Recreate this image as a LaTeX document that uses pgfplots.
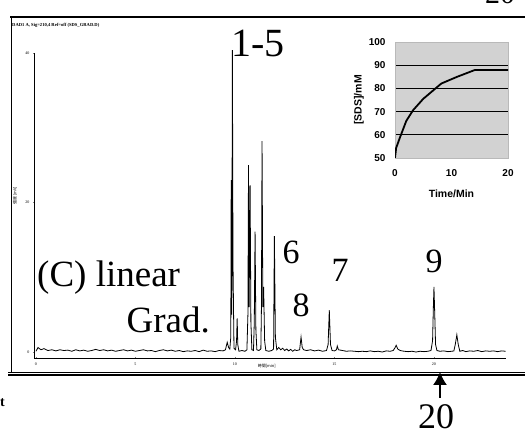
\documentclass[border=0pt]{standalone}
\usepackage{pgfplots}
\pgfplotsset{compat=1.18}
\usepackage{fontspec}
\setmainfont{Liberation Serif}
\newfontfamily\insetfont{Liberation Sans}
\newfontfamily\cjk{Noto Sans CJK JP}
\usetikzlibrary{arrows.meta}
\begin{document}
\begin{tikzpicture}[x=1pt,y=1pt]
\clip (0,0) rectangle (525,435);
% frame lines of the scanned page
\draw[line width=1.6pt] (10,418) -- (525,418);
\draw[line width=1.0pt] (11,418) -- (11,62);
\draw[line width=0.9pt] (8,63) -- (525,63);
\draw[line width=1.8pt] (8,60) -- (525,60);
% main chromatogram
\begin{axis}[
  at={(34pt,77pt)}, anchor=south west,
  scale only axis, width=471.6pt, height=305pt,
  xmin=-0.1, xmax=23.6, ymin=-0.8, ymax=40,
  clip=false,
  axis lines=left,
  axis line style={-, line width=0.9pt},
  xtick={0,5,10,15,20}, ytick={0,20,40},
  major tick length=2pt,
  tick style={line width=0.4pt},
  tick label style={font=\fontsize{4}{4}\selectfont},
  /pgf/number format/assume math mode=true,
  xlabel={\cjk\fontsize{4}{4}\selectfont 時間[min]},
  xlabel style={at={(axis description cs:0.5,0)}, anchor=north, yshift=-3pt, xshift=-3pt},
]
\addplot[black, line width=0.8pt] coordinates {
(0,0.1) (0.1,0.6) (0.25,0.3) (0.4,0.45) (0.6,0.2) (0.8,0.3) (1.0,0.15) (1.2,0.3) (1.4,0.2) (1.6,0.25) (1.8,0.1) (2.0,0.3) (2.2,0.15) (2.4,0.25) (2.6,0.1) (2.8,0.2) (3.0,0.35) (3.2,0.2) (3.4,0.3) (3.6,0.15) (3.8,0.25) (4.0,0.1) (4.2,0.2) (4.4,0.3) (4.6,0.15) (4.8,0.25) (5.0,0.1) (5.2,0.2) (5.4,0.3) (5.6,0.15) (5.8,0.2) (6.0,0.05) (6.2,0.2) (6.4,0.3) (6.6,0.15) (6.8,0.25) (7.0,0.1) (7.2,0.2) (7.4,0.05) (7.6,0.15) (7.8,0.1) (8.0,0.2) (8.2,0.05) (8.4,0.25) (8.6,0.1) (8.8,0.15) (9.0,0.05) (9.2,0.2) (9.4,0.15) (9.52,0.3) (9.61,1.3) (9.68,0.6) (9.74,0.4) (9.79,2.0) (9.81,23) (9.84,5) (9.87,40.4) (9.9,12) (9.95,0.5) (10.03,0.3) (10.08,1.5) (10.11,4.5) (10.14,1.0) (10.2,0.1) (10.35,0.2) (10.5,0.1) (10.6,0.3) (10.65,5) (10.68,25.0) (10.71,6) (10.76,22.3) (10.8,4) (10.85,0.3) (10.93,0.2) (10.97,4) (11.01,16.1) (11.05,3) (11.1,0.3) (11.2,0.2) (11.3,0.4) (11.33,6) (11.36,28.2) (11.4,6) (11.44,8.7) (11.49,1.5) (11.55,0.2) (11.7,0.1) (11.85,0.2) (11.94,0.4) (11.98,15.5) (12.03,2) (12.1,0.3) (12.2,0.6) (12.3,0.3) (12.4,0.5) (12.5,0.2) (12.6,0.4) (12.7,0.15) (12.8,0.35) (12.9,0.1) (13.0,0.3) (13.1,0.2) (13.25,0.3) (13.32,2.0) (13.38,0.6) (13.45,0.3) (13.6,0.2) (13.8,0.3) (14.0,0.15) (14.2,0.25) (14.4,0.1) (14.6,0.2) (14.68,1) (14.74,5.6) (14.8,1.0) (14.88,0.2) (15.0,0.15) (15.1,0.3) (15.14,0.8) (15.2,0.3) (15.4,0.2) (15.6,0.1) (15.8,0.15) (16.0,0.1) (16.2,0.05) (16.4,0.1) (16.6,0.05) (16.8,0.15) (17.0,0.05) (17.2,0.1) (17.4,0.0) (17.6,0.15) (17.8,0.1) (17.95,0.2) (18.05,0.6) (18.1,0.9) (18.18,0.4) (18.3,0.2) (18.5,0.1) (18.7,0.05) (18.9,0.1) (19.1,0.0) (19.3,0.1) (19.5,0.05) (19.7,0.1) (19.85,0.2) (19.93,1.5) (19.97,6) (20.0,8.7) (20.04,5) (20.08,1) (20.15,0.2) (20.3,0.1) (20.5,0.15) (20.7,0.05) (20.9,0.1) (21.0,0.15) (21.07,1.0) (21.15,2.3) (21.22,1.0) (21.3,0.1) (21.45,0.2) (21.6,0.05) (21.8,0.15) (22.0,0.1) (22.2,0.2) (22.4,0.05) (22.6,0.15) (22.8,0.1) (23.0,0.15) (23.2,0.05) (23.4,0.15) (23.6,0.1)
};
\end{axis}
% inset: SDS gradient
\begin{axis}[
  at={(395pt,277pt)}, anchor=south west,
  scale only axis, width=113pt, height=116pt,
  xmin=0, xmax=20, ymin=50, ymax=100,
  xtick={0,10,20}, ytick={50,60,70,80,90,100},
  major tick length=0pt,
  axis background/.style={fill=gray!35},
  axis line style={gray!55, line width=0.8pt},
  ymajorgrids, major grid style={black, line width=0.9pt},
  tick label style={font=\insetfont\bfseries\fontsize{10}{10}\selectfont},
  xticklabel style={yshift=-8pt},
  yticklabel style={xshift=-6pt},
  /pgf/number format/assume math mode=true,
  xlabel={\insetfont\bfseries\fontsize{10.5}{10.5}\selectfont Time/Min},
  xlabel style={yshift=-6pt},
  ylabel={\insetfont\bfseries\fontsize{10.5}{10.5}\selectfont [SDS]/mM},
  ylabel style={yshift=-2pt},
]
\addplot[black, line width=1.8pt] coordinates {
(0,50) (0.2,54.3) (0.9,59) (2,66) (3.2,70.6) (5,75.5) (8.2,82.1) (11,85) (14.1,87.9) (20,87.9)
};
\end{axis}
% annotations
\node[font=\bfseries\fontsize{4.6}{4.6}\selectfont, anchor=west, inner sep=0pt] at (12,410) {DAD1 A, Sig=210,4 Ref=off (SDS\_GRAD.D)};
\node[font=\cjk\fontsize{4}{4}\selectfont, rotate=90] at (15,239) {強度 [mV]};
\node[font=\fontsize{40}{40}\selectfont, anchor=base, inner sep=0pt] at (258,378) {1-5};
\node[font=\fontsize{34}{34}\selectfont, anchor=base] at (291,171) {6};
\node[font=\fontsize{34}{34}\selectfont, anchor=base] at (340,153) {7};
\node[font=\fontsize{34}{34}\selectfont, anchor=base] at (301,118) {8};
\node[font=\fontsize{34}{34}\selectfont, anchor=base] at (434,162) {9};
\node[font=\fontsize{37}{37}\selectfont, anchor=base west, inner sep=0pt] at (37,148) {(C) linear};
\node[font=\fontsize{37}{37}\selectfont, anchor=base east, inner sep=0pt] at (210,102) {Grad.};
\draw[line width=1.4pt, -{Latex[length=13pt,width=14pt]}] (440,37) -- (440,63);
\node[font=\fontsize{36}{36}\selectfont, anchor=base, inner sep=0pt] at (436,6) {20};
\node[font=\bfseries\fontsize{14}{14}\selectfont, anchor=base west, inner sep=0pt] at (0,28) {t};
\node[font=\fontsize{30}{30}\selectfont, anchor=base, inner sep=0pt] at (500,431) {20};
\end{tikzpicture}
\end{document}
